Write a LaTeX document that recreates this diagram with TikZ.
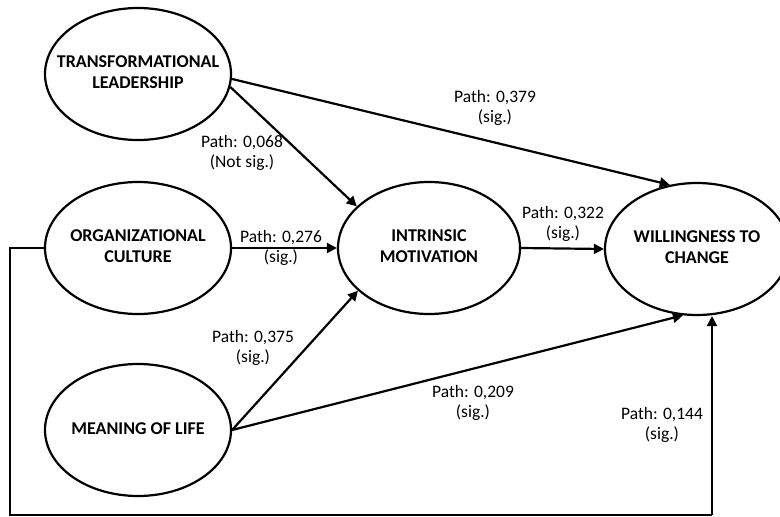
\documentclass[tikz,border=0pt]{standalone}
\usepackage{fontspec}
\setmainfont{Carlito}
\usetikzlibrary{shapes.geometric,arrows.meta}
\newcommand{\zerowidthtext}[1]{\makebox[0pt]{\begin{tabular}{@{}c@{}}#1\end{tabular}}}
\begin{document}
\begin{tikzpicture}[x=1pt,y=-1pt,
  latent/.style={draw,ellipse,line width=2.2pt,minimum width=186pt,minimum height=132pt,inner sep=0pt,
    font=\fontsize{18}{21}\selectfont\bfseries},
  conn/.style={line width=2.2pt,-{Triangle[length=10pt,width=10pt]}},
  plain/.style={line width=2.2pt},
  lbl/.style={align=center,inner sep=0pt,font=\fontsize{17.5}{20}\selectfont}]
\useasboundingbox (0,0) rectangle (780,517);
\clip (0,0) rectangle (780,517);
\node[latent] (tl) at (138,74) {\zerowidthtext{TRANSFORMATIONAL\\LEADERSHIP}};
\node[latent] (oc) at (138,248) {\zerowidthtext{ORGANIZATIONAL\\CULTURE}};
\node[latent] (mol) at (138,430) {\zerowidthtext{MEANING OF LIFE}};
\node[latent,minimum width=182pt] (im) at (429,248) {\zerowidthtext{INTRINSIC\\MOTIVATION}};
\node[latent,minimum width=184pt] (wtc) at (697,249) {\zerowidthtext{WILLINGNESS TO\\CHANGE}};

\draw[conn] (tl.-3) -- (wtc.113);
\draw[conn] (tl.-8) -- (im.150);
\draw[conn] (oc.east) -- (im.west);
\draw[conn] (im.east) -- (wtc.west);
\draw[conn] (mol.east) -- (im.211);
\draw[conn] (mol.east) -- (wtc.258);

\coordinate (fbl) at (10,248);
\coordinate (fb) at (712,515);
\draw[plain] (oc.west) -- (fbl) |- (fb);
\draw[conn] (fb) -- (fb |- wtc.south);

\node[lbl] (l379) at (495,108) {Path: 0,379\\(sig.)};
\node[lbl] (l068) at (242,153) {Path: 0,068\\(Not sig.)};
\node[lbl] (l276) at (281,248) {Path: 0,276\\(sig.)};
\node[lbl] (l322) at (563,224) {Path: 0,322\\(sig.)};
\node[lbl] (l375) at (253,348) {Path: 0,375\\(sig.)};
\node[lbl] (l209) at (473,403) {Path: 0,209\\(sig.)};
\node[lbl] (l144) at (662,425) {Path: 0,144\\(sig.)};
\end{tikzpicture}
\end{document}
